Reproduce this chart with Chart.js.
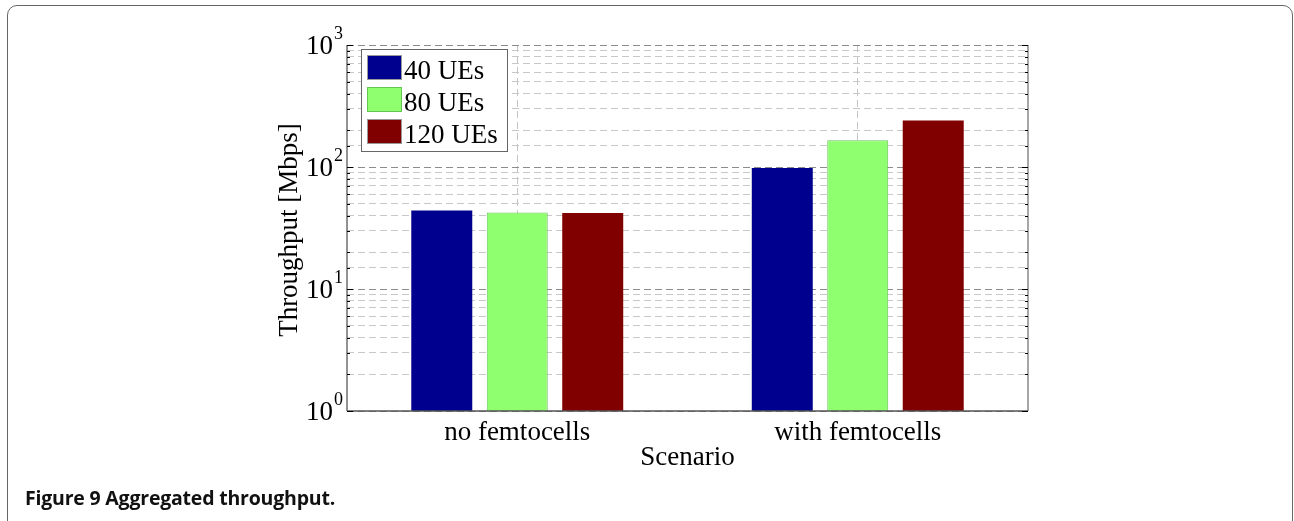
<!DOCTYPE html>
<html>
<head>
<meta charset="utf-8">
<script src="https://cdn.jsdelivr.net/npm/chart.js@4/dist/chart.umd.min.js"></script>
<style>
  html, body { margin: 0; padding: 0; background: #fff; }
  #wrap { position: relative; width: 1294px; height: 521px; overflow: hidden; }
  #c { position: absolute; left: 0; top: 0; }
  #frame { position: absolute; left: 7px; top: 5px; width: 1286px; height: 540px;
           border: 1.5px solid #666; border-radius: 10px; box-sizing: border-box; pointer-events: none; }
  #caption { position: absolute; left: 25px; top: 484px; font-family: "Open Sans", sans-serif;
             font-size: 19.5px; font-weight: 700; color: #111; white-space: nowrap; letter-spacing: -0.2px; }
</style>
</head>
<body>
<div id="wrap">
  <canvas id="c" width="1294" height="521" style="width:1294px;height:521px"></canvas>
  <div id="frame"></div>
  <div id="caption">Figure 9 Aggregated throughput.</div>
</div>
<script>
// ---- data ----
const categories = ['no femtocells', 'with femtocells'];
const seriesNames = ['40 UEs', '80 UEs', '120 UEs'];
const ues40  = [44, 98];
const ues80  = [42.3, 166];
const ues120 = [42, 241];
const yTickExponents = [0, 1, 2, 3];
const xAxisTitle = 'Scenario';
const yAxisTitle = 'Throughput [Mbps]';

const colors = ['#00008F', '#8FFF70', '#800000'];
const borders = ['#00008F', '#66C455', '#700000'];
const seriesValues = [ues40, ues80, ues120];

const SERIF = '"Liberation Serif", "Times New Roman", serif';

const isMajor = v => Math.abs(Math.log10(v) - Math.round(Math.log10(v))) < 1e-9;

const decorPlugin = {
  id: 'decor',
  afterDraw(chart) {
    const ctx = chart.ctx;
    const a = chart.chartArea;
    const ys = chart.scales.y, xs = chart.scales.x;
    ctx.save();
    // axis box
    ctx.setLineDash([]);
    ctx.lineWidth = 1.5;
    ctx.strokeStyle = '#6e6e6e';
    ctx.beginPath(); ctx.moveTo(a.left, a.top); ctx.lineTo(a.left, a.bottom); ctx.stroke();
    ctx.strokeStyle = '#8a8a8a';
    ctx.beginPath(); ctx.moveTo(a.right, a.top); ctx.lineTo(a.right, a.bottom); ctx.stroke();
    ctx.strokeStyle = '#555';
    ctx.beginPath(); ctx.moveTo(a.left, a.bottom); ctx.lineTo(a.right, a.bottom); ctx.stroke();
    // tick marks
    ctx.lineWidth = 1;
    ctx.strokeStyle = '#000';
    ys.ticks.forEach(t => {
      const y = Math.round(ys.getPixelForValue(t.value)) + 0.5;
      const len = isMajor(t.value) ? 6 : 3;
      ctx.beginPath();
      ctx.moveTo(a.left, y); ctx.lineTo(a.left + len, y);
      ctx.moveTo(a.right - len, y); ctx.lineTo(a.right, y);
      ctx.stroke();
    });
    // y tick labels 10^n
    ctx.fillStyle = '#000';
    yTickExponents.forEach(e => {
      const y = ys.getPixelForValue(Math.pow(10, e));
      ctx.font = '27px ' + SERIF;
      ctx.textAlign = 'right';
      ctx.textBaseline = 'alphabetic';
      ctx.fillText('10', a.left - 14, y + 9);
      ctx.font = '18px ' + SERIF;
      ctx.textAlign = 'left';
      ctx.fillText(String(e), a.left - 13, y - 6);
    });
    // x category labels
    ctx.font = '27px ' + SERIF;
    ctx.textAlign = 'center';
    ctx.textBaseline = 'alphabetic';
    categories.forEach((c, i) => {
      ctx.fillText(c, xs.getPixelForValue(i), a.bottom + 29);
    });
    // x title
    ctx.fillText(xAxisTitle, (a.left + a.right) / 2, a.bottom + 54);
    // y title
    ctx.save();
    ctx.translate(297, (a.top + a.bottom) / 2 + 2);
    ctx.rotate(-Math.PI / 2);
    ctx.fillText(yAxisTitle, 0, 0);
    ctx.restore();
    // legend
    const lx = 361.5, ly = 49.5, lw = 146, lh = 102;
    ctx.fillStyle = '#fff';
    ctx.fillRect(lx, ly, lw, lh);
    ctx.strokeStyle = '#666';
    ctx.lineWidth = 1;
    ctx.strokeRect(lx, ly, lw, lh);
    seriesNames.forEach((n, i) => {
      const sy = 55 + i * 32;
      ctx.fillStyle = colors[i];
      ctx.fillRect(367, sy, 35, 25);
      ctx.strokeStyle = i === 1 ? borders[1] : '#999';
      ctx.strokeRect(367.5, sy + 0.5, 34, 24);
      ctx.fillStyle = '#000';
      ctx.font = '27px ' + SERIF;
      ctx.textAlign = 'left';
      ctx.fillText(n, 404, sy + 24);
    });
    ctx.restore();
  }
};

new Chart(document.getElementById('c'), {
  type: 'bar',
  data: {
    labels: categories,
    datasets: seriesNames.map((n, i) => ({
      label: n,
      data: seriesValues[i],
      backgroundColor: colors[i],
      borderColor: borders[i],
      borderWidth: i === 1 ? 1 : 0,
      categoryPercentage: 0.665,
      barPercentage: 0.808
    }))
  },
  options: {
    responsive: false,
    animation: false,
    devicePixelRatio: 1,
    layout: { padding: { left: 347, right: 266, top: 45, bottom: 110 } },
    plugins: { legend: { display: false }, tooltip: { enabled: false } },
    scales: {
      x: {
        type: 'category',
        ticks: { display: false },
        border: { display: true, width: 0, color: 'rgba(0,0,0,0)', dash: [7, 4] },
        grid: { offset: false, drawTicks: false, color: '#c4c4c4', lineWidth: 1, tickLength: 0, borderDash: [7, 4] },
        afterFit: s => { s.height = 0; }
      },
      y: {
        type: 'logarithmic',
        min: 1, max: 1000,
        ticks: { display: false },
        border: { display: true, width: 0, color: 'rgba(0,0,0,0)', dash: [7, 4] },
        grid: {
          drawTicks: false,
          tickLength: 0,
          lineWidth: 1,
          borderDash: [7, 4],
          color: ctx => (ctx.tick && isMajor(ctx.tick.value)) ? '#8c8c8c' : '#c8c8c8'
        },
        afterFit: s => { s.width = 0; }
      }
    }
  },
  plugins: [decorPlugin]
});
</script>
</body>
</html>
